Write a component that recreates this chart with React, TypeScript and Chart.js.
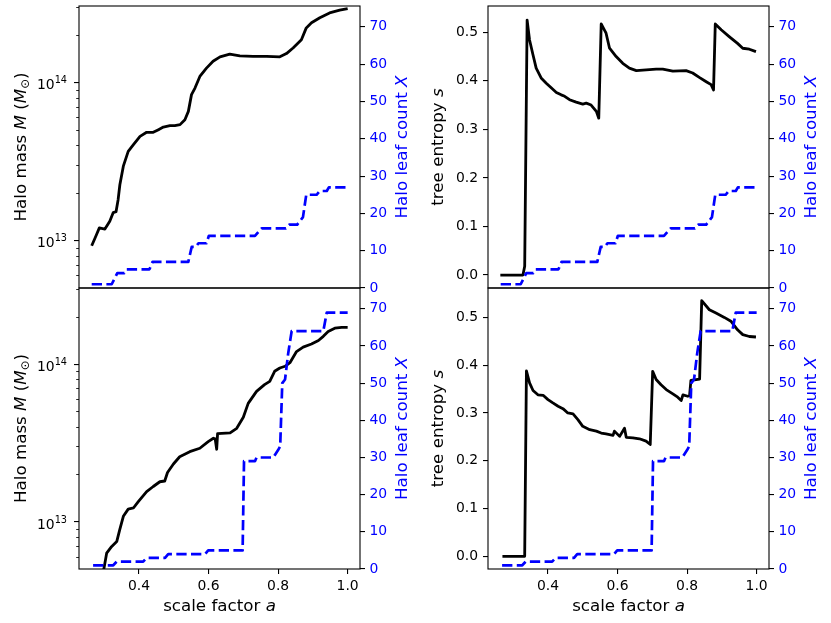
import { useEffect, useRef } from 'react';
import { Chart, ChartConfiguration, Plugin, Scale, registerables } from 'chart.js';

Chart.register(...registerables);

const FAMILY = '"DejaVu Sans", "Liberation Sans", sans-serif';
const BLUE = '#0000ff';
const TICK_SIZE = 13.9;
const LABEL_SIZE = 16.7;

// axis limits and tick labels
const xLimits = [0.2275, 1.0355];
const xTicks = [0.4, 0.6, 0.8, 1.0];
const massLimits = [5.0e12, 3.04e14];
const leafLimits = [0, 75.6];
const leafTicks = [0, 10, 20, 30, 40, 50, 60, 70];
const entropyTicks = [0.0, 0.1, 0.2, 0.3, 0.4, 0.5];
const entropyLimitsTop = [-0.0267, 0.554];
const entropyLimitsBottom = [-0.0265, 0.5615];

// upper halo
const topMassA = [0.264, 0.274, 0.278, 0.286, 0.302, 0.316, 0.326, 0.334, 0.340, 0.345, 0.355, 0.369, 0.384, 0.403, 0.422, 0.441, 0.456, 0.470, 0.489, 0.503, 0.518, 0.532, 0.542, 0.551, 0.561, 0.575, 0.594, 0.613, 0.633, 0.661, 0.690, 0.728, 0.767, 0.805, 0.824, 0.843, 0.867, 0.881, 0.896, 0.920, 0.948, 0.977, 1.0];
const topMass = [9.25e12, 1.04e13, 1.09e13, 1.2e13, 1.18e13, 1.32e13, 1.5e13, 1.52e13, 1.81e13, 2.25e13, 2.95e13, 3.66e13, 4.03e13, 4.55e13, 4.83e13, 4.83e13, 5.02e13, 5.21e13, 5.32e13, 5.32e13, 5.4e13, 5.8e13, 6.55e13, 8.36e13, 9.2e13, 1.09e14, 1.23e14, 1.36e14, 1.45e14, 1.51e14, 1.47e14, 1.46e14, 1.46e14, 1.45e14, 1.52e14, 1.65e14, 1.86e14, 2.21e14, 2.38e14, 2.56e14, 2.75e14, 2.86e14, 2.93e14];

const topLeafA = [0.264, 0.3215, 0.3376, 0.358, 0.3646, 0.43, 0.439, 0.5418, 0.5515, 0.563, 0.571, 0.594, 0.601, 0.7335, 0.7525, 0.8225, 0.832, 0.855, 0.8715, 0.881, 0.911, 0.9195, 0.94, 0.946, 1.0];
const topLeaf = [1, 1, 4, 4, 5, 5, 7, 7, 11, 11, 12, 12, 14, 14, 16, 16, 17, 17, 19, 25, 25, 26, 26, 27, 27];

const topEntropyA = [0.263, 0.328, 0.333, 0.340, 0.347, 0.357, 0.366, 0.381, 0.395, 0.410, 0.424, 0.438, 0.448, 0.462, 0.481, 0.500, 0.510, 0.524, 0.539, 0.546, 0.553, 0.567, 0.577, 0.596, 0.615, 0.634, 0.654, 0.673, 0.711, 0.730, 0.759, 0.797, 0.816, 0.835, 0.855, 0.869, 0.876, 0.881, 0.898, 0.921, 0.945, 0.960, 0.979, 0.998];
const topEntropy = [0, 0, 0.018, 0.525, 0.484, 0.453, 0.426, 0.405, 0.395, 0.385, 0.376, 0.371, 0.368, 0.361, 0.356, 0.352, 0.354, 0.350, 0.337, 0.323, 0.517, 0.498, 0.467, 0.450, 0.436, 0.426, 0.421, 0.422, 0.424, 0.424, 0.420, 0.421, 0.416, 0.407, 0.398, 0.392, 0.381, 0.517, 0.505, 0.491, 0.477, 0.467, 0.465, 0.460];

// lower halo
const bottomMassA = [0.270, 0.299, 0.307, 0.321, 0.336, 0.3445, 0.355, 0.369, 0.384, 0.398, 0.422, 0.441, 0.460, 0.474, 0.482, 0.499, 0.517, 0.546, 0.575, 0.599, 0.614, 0.619, 0.6234, 0.626, 0.662, 0.681, 0.700, 0.714, 0.738, 0.761, 0.776, 0.790, 0.805, 0.820, 0.834, 0.853, 0.872, 0.896, 0.916, 0.930, 0.944, 0.963, 0.983, 1.0];
const bottomMass = [4.0e12, 5.0e12, 6.3e12, 6.93e12, 7.47e12, 8.85e12, 1.08e13, 1.2e13, 1.22e13, 1.34e13, 1.55e13, 1.67e13, 1.79e13, 1.81e13, 2.05e13, 2.32e13, 2.58e13, 2.78e13, 2.92e13, 3.22e13, 3.38e13, 3.35e13, 2.88e13, 3.62e13, 3.66e13, 3.91e13, 4.6e13, 5.63e13, 6.71e13, 7.4e13, 7.77e13, 9.0e13, 9.44e13, 9.68e13, 1.02e14, 1.2e14, 1.28e14, 1.34e14, 1.41e14, 1.5e14, 1.61e14, 1.69e14, 1.71e14, 1.71e14];

const bottomLeafA = [0.268, 0.326, 0.336, 0.412, 0.422, 0.475, 0.484, 0.590, 0.599, 0.698, 0.702, 0.7335, 0.738, 0.786, 0.800, 0.806, 0.812, 0.820, 0.829, 0.839, 0.930, 0.940, 1.0];
const bottomLeaf = [1, 1, 2, 2, 3, 3, 4, 4, 5, 5, 29, 29, 30, 30, 32, 33, 50, 51, 58, 64, 64, 69, 69];

const bottomEntropyA = [0.269, 0.333, 0.338, 0.347, 0.357, 0.371, 0.386, 0.400, 0.414, 0.429, 0.443, 0.457, 0.472, 0.486, 0.500, 0.520, 0.539, 0.553, 0.567, 0.587, 0.591, 0.606, 0.620, 0.625, 0.644, 0.663, 0.682, 0.694, 0.701, 0.711, 0.725, 0.740, 0.759, 0.773, 0.783, 0.788, 0.802, 0.807, 0.811, 0.826, 0.836, 0.842, 0.864, 0.883, 0.907, 0.926, 0.945, 0.960, 0.979, 0.998];
const bottomEntropy = [0, 0, 0.388, 0.363, 0.347, 0.338, 0.337, 0.328, 0.321, 0.314, 0.309, 0.300, 0.298, 0.286, 0.272, 0.265, 0.262, 0.258, 0.256, 0.253, 0.262, 0.251, 0.268, 0.249, 0.248, 0.246, 0.241, 0.234, 0.387, 0.370, 0.359, 0.349, 0.340, 0.333, 0.326, 0.338, 0.335, 0.336, 0.368, 0.370, 0.371, 0.535, 0.516, 0.509, 0.500, 0.492, 0.474, 0.464, 0.460, 0.459];

type Seg = { t: string; it?: boolean; sub?: boolean };
type Title = { segs: Seg[]; side: 'left' | 'right' | 'bottom'; offset: number; color: string };

const massTitle: Seg[] = [{ t: 'Halo mass ' }, { t: 'M', it: true }, { t: ' (' }, { t: 'M', it: true }, { t: '\u2299', sub: true }, { t: ')' }];
const entropyTitle: Seg[] = [{ t: 'tree entropy ' }, { t: 's', it: true }];
const leafTitle: Seg[] = [{ t: 'Halo leaf count ' }, { t: 'X', it: true }];
const xTitle: Seg[] = [{ t: 'scale factor ' }, { t: 'a', it: true }];

const isPow10 = (v: number) => {
  const l = Math.log10(v);
  return Math.abs(l - Math.round(l)) < 1e-9;
};

function segFont(s: Seg) {
  const size = s.sub ? LABEL_SIZE * 0.7 : LABEL_SIZE;
  return `${s.it ? 'italic ' : ''}${size}px ${FAMILY}`;
}

function titlePlugin(items: Title[]): Plugin {
  return {
    id: 'richTitles',
    afterDraw(chart) {
      const { ctx, chartArea: ca } = chart;
      for (const item of items) {
        let x = (ca.left + ca.right) / 2;
        let y = (ca.top + ca.bottom) / 2;
        let rot = -Math.PI / 2;
        if (item.side === 'bottom') { y = ca.bottom + item.offset; rot = 0; }
        else if (item.side === 'left') x = ca.left - item.offset;
        else x = ca.right + item.offset;
        ctx.save();
        ctx.translate(x, y);
        ctx.rotate(rot);
        ctx.fillStyle = item.color;
        ctx.textBaseline = 'alphabetic';
        ctx.textAlign = 'left';
        const widths = item.segs.map((s) => { ctx.font = segFont(s); return ctx.measureText(s.t).width; });
        let cx = -widths.reduce((a, b) => a + b, 0) / 2;
        item.segs.forEach((s, k) => {
          ctx.font = segFont(s);
          ctx.fillText(s.t, cx, s.sub ? LABEL_SIZE * 0.2 : 0);
          cx += widths[k];
        });
        ctx.restore();
      }
    },
  };
}

// spines, the short minor ticks of the log axis and its 10^n labels
const framePlugin: Plugin = {
  id: 'frame',
  afterDraw(chart) {
    const { ctx, chartArea: ca } = chart;
    const s = chart.scales.y;
    ctx.save();
    ctx.strokeStyle = '#000';
    ctx.fillStyle = '#000';
    if (s.type === 'logarithmic') {
      for (const t of s.ticks) {
        const v = t.value;
        if (v <= s.min || v >= s.max) continue;
        const py = Math.round(s.getPixelForValue(v)) + 0.5;
        if (isPow10(v)) {
          const sup = String(Math.round(Math.log10(v)));
          ctx.textBaseline = 'alphabetic';
          ctx.textAlign = 'right';
          ctx.font = `${TICK_SIZE * 0.7}px ${FAMILY}`;
          const xr = ca.left - 12;
          ctx.fillText(sup, xr, py + 6.8 - 6.5);
          const sw = ctx.measureText(sup).width;
          ctx.font = `${TICK_SIZE}px ${FAMILY}`;
          ctx.fillText('10', xr - sw, py + 6.8);
          continue;
        }
        const e = Math.floor(Math.log10(v) + 1e-9);
        const m = v / Math.pow(10, e);
        if (Math.abs(m - Math.round(m)) > 1e-6) continue;
        ctx.lineWidth = 0.85;
        ctx.beginPath();
        ctx.moveTo(ca.left - 2.8, py);
        ctx.lineTo(ca.left, py);
        ctx.stroke();
      }
    }
    ctx.lineWidth = 1.1;
    ctx.strokeRect(ca.left, ca.top, ca.right - ca.left, ca.bottom - ca.top);
    ctx.restore();
  },
};

const points = (a: number[], v: number[]) => a.map((x, i) => ({ x, y: v[i] }));

const fixSize = (w?: number, h?: number) => (s: Scale) => {
  if (w !== undefined) s.width = w;
  if (h !== undefined) s.height = h;
  s.paddingTop = 0;
  s.paddingBottom = 0;
  s.paddingLeft = 0;
  s.paddingRight = 0;
};

const tickGrid = {
  drawOnChartArea: false,
  drawTicks: true,
  tickLength: 5,
  color: '#000',
  lineWidth: 1.1,
};

interface PanelProps {
  box: number[];  // canvas left, top, width, height
  plot: number[]; // plot left, top, right, bottom
  kind: 'mass' | 'entropy';
  lineA: number[];
  lineY: number[];
  leafA: number[];
  leafY: number[];
  yLimits: number[];
  showX: boolean;
}

function Panel({ box, plot, kind, lineA, lineY, leafA, leafY, yLimits, showX }: PanelProps) {
  const canvasRef = useRef<HTMLCanvasElement>(null);
  const chartRef = useRef<Chart | null>(null);

  useEffect(() => {
    if (!canvasRef.current) return;
    if (chartRef.current) chartRef.current.destroy();

    const [cl, ct, cw, ch] = box;
    const [pl, pt, pr, pb] = plot;
    const leftW = pl - cl;
    const rightW = cl + cw - pr;
    const bottomH = ct + ch - pb;

    const titles: Title[] = [
      kind === 'mass'
        ? { segs: massTitle, side: 'left', offset: 53, color: '#000' }
        : { segs: entropyTitle, side: 'left', offset: 45.5, color: '#000' },
      { segs: leafTitle, side: 'right', offset: 47, color: BLUE },
    ];
    if (showX) titles.push({ segs: xTitle, side: 'bottom', offset: 42, color: '#000' });

    const tickFont = { family: FAMILY, size: TICK_SIZE };

    const yScale = kind === 'mass'
      ? {
          type: 'logarithmic' as const,
          position: 'left' as const,
          min: yLimits[0],
          max: yLimits[1],
          afterFit: fixSize(leftW),
          border: { display: false },
          grid: {
            ...tickGrid,
            tickColor: (c: any) => (c.tick && isPow10(c.tick.value) ? '#000' : 'rgba(0,0,0,0)'),
          },
          // labels are drawn by the frame plugin with a real superscript
          ticks: { font: tickFont, autoSkip: false, callback: () => '' },
        }
      : {
          type: 'linear' as const,
          position: 'left' as const,
          min: yLimits[0],
          max: yLimits[1],
          afterFit: fixSize(leftW),
          afterBuildTicks: (s: Scale) => { s.ticks = entropyTicks.map((value) => ({ value })); },
          border: { display: false },
          grid: tickGrid,
          ticks: {
            font: tickFont,
            color: '#000',
            padding: 5,
            autoSkip: false,
            callback: (v: any) => (Math.abs(Number(v)) < 1e-9 ? '0.0' : Number(v).toFixed(1)),
          },
        };

    const config: ChartConfiguration = {
      type: 'line',
      data: {
        datasets: [
          {
            label: 'leaf count',
            data: points(leafA, leafY),
            yAxisID: 'y2',
            borderColor: BLUE,
            borderWidth: 2.7,
            borderDash: [10.3, 4.4],
            borderCapStyle: 'butt',
            borderJoinStyle: 'round',
            pointRadius: 0,
            fill: false,
            tension: 0,
          },
          {
            label: kind,
            data: points(lineA, lineY),
            yAxisID: 'y',
            borderColor: '#000',
            borderWidth: 2.8,
            borderJoinStyle: 'round',
            pointRadius: 0,
            fill: false,
            tension: 0,
          },
        ],
      },
      options: {
        animation: false,
        responsive: false,
        devicePixelRatio: window.devicePixelRatio || 1,
        layout: { padding: { left: 0, right: 0, top: pt - ct, bottom: showX ? 0 : bottomH } },
        plugins: { legend: { display: false }, tooltip: { enabled: false } },
        scales: {
          x: {
            type: 'linear',
            display: showX,
            min: xLimits[0],
            max: xLimits[1],
            afterFit: fixSize(undefined, showX ? bottomH : 0),
            afterBuildTicks: (s: Scale) => { s.ticks = xTicks.map((value) => ({ value })); },
            border: { display: false },
            grid: tickGrid,
            ticks: {
              font: tickFont,
              color: '#000',
              padding: 4,
              maxRotation: 0,
              autoSkip: false,
              callback: (v: any) => Number(v).toFixed(1),
            },
          },
          y: yScale as any,
          y2: {
            type: 'linear',
            position: 'right',
            min: leafLimits[0],
            max: leafLimits[1],
            afterFit: fixSize(rightW),
            afterBuildTicks: (s: Scale) => { s.ticks = leafTicks.map((value) => ({ value })); },
            border: { display: false },
            grid: tickGrid,
            ticks: {
              font: tickFont,
              color: BLUE,
              padding: 4.5,
              autoSkip: false,
              callback: (v: any) => String(v),
            },
          },
        },
      },
      plugins: [framePlugin, titlePlugin(titles)],
    };

    chartRef.current = new Chart(canvasRef.current, config);
    return () => {
      if (chartRef.current) {
        chartRef.current.destroy();
        chartRef.current = null;
      }
    };
  }, []);

  return (
    <canvas
      ref={canvasRef}
      width={box[2]}
      height={box[3]}
      style={{ position: 'absolute', left: box[0], top: box[1], width: box[2], height: box[3] }}
    />
  );
}

export default function App() {
  return (
    <div style={{ position: 'absolute', left: 0, top: 0, width: 831, height: 623, background: '#fff', overflow: 'hidden' }}>
      <Panel box={[0, 0, 420, 300]} plot={[79, 6, 360, 288]} kind="mass"
        lineA={topMassA} lineY={topMass} leafA={topLeafA} leafY={topLeaf} yLimits={massLimits} showX={false} />
      <Panel box={[420, 0, 411, 300]} plot={[488, 6, 769, 288]} kind="entropy"
        lineA={topEntropyA} lineY={topEntropy} leafA={topLeafA} leafY={topLeaf} yLimits={entropyLimitsTop} showX={false} />
      <Panel box={[0, 280, 420, 343]} plot={[79, 288, 360, 569]} kind="mass"
        lineA={bottomMassA} lineY={bottomMass} leafA={bottomLeafA} leafY={bottomLeaf} yLimits={massLimits} showX />
      <Panel box={[420, 280, 411, 343]} plot={[488, 288, 769, 569]} kind="entropy"
        lineA={bottomEntropyA} lineY={bottomEntropy} leafA={bottomLeafA} leafY={bottomLeaf} yLimits={entropyLimitsBottom} showX />
    </div>
  );
}
